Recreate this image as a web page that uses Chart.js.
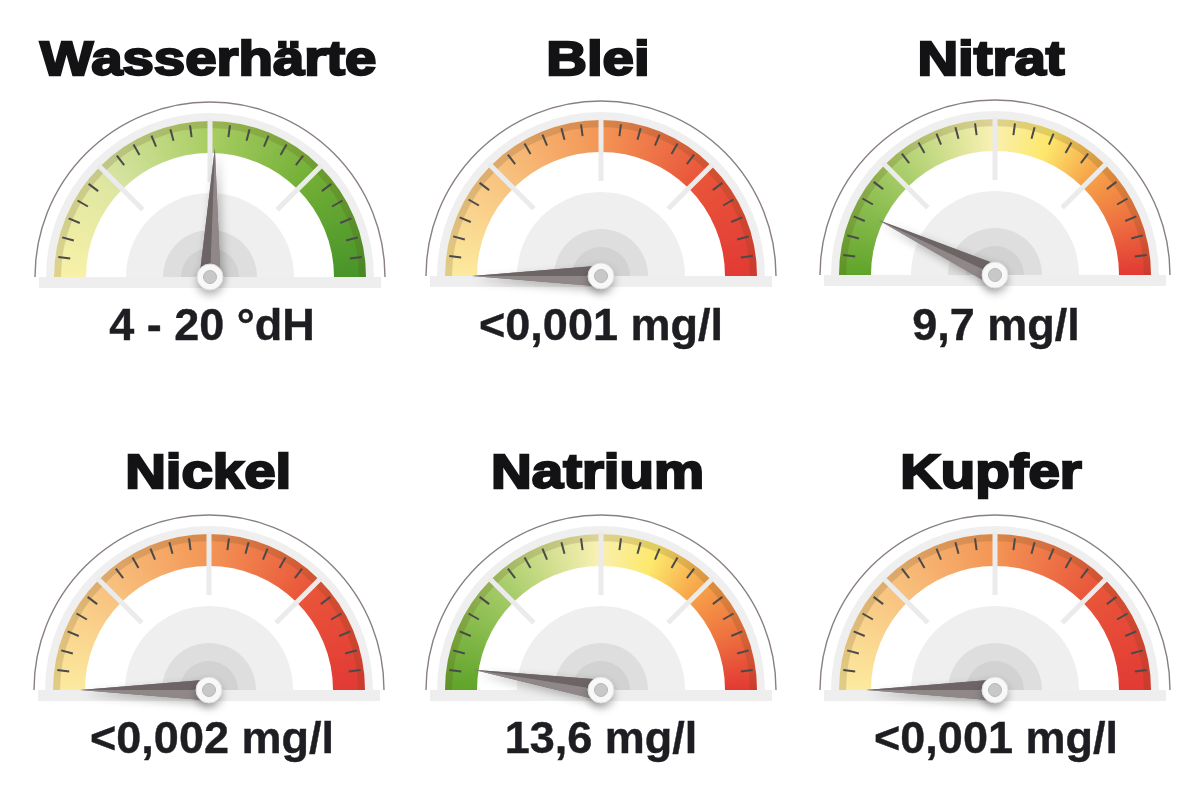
<!DOCTYPE html>
<html><head><meta charset="utf-8">
<script src="https://cdn.jsdelivr.net/npm/chart.js@4.4.1/dist/chart.umd.min.js"></script>
<style>
html,body{margin:0;padding:0;background:#fff;width:1200px;height:789px;overflow:hidden;position:relative;font-family:"Liberation Sans",Arial,sans-serif;}
canvas{position:absolute;}
.title{position:absolute;width:400px;text-align:center;font-weight:700;font-size:49px;line-height:49px;color:#131315;-webkit-text-stroke:2.3px #131315;white-space:nowrap;}
.title span{display:inline-block;transform:scaleX(1.15);}
.reading{position:absolute;width:400px;text-align:center;font-weight:700;font-size:45px;line-height:45px;color:#1e1e22;-webkit-text-stroke:0.4px #1e1e22;white-space:nowrap;}
</style></head><body>
<script>
// ---- data ----
const gaugeTitles = ['Wasserhärte', 'Blei', 'Nitrat', 'Nickel', 'Natrium', 'Kupfer'];
const readingLabels = ['4 - 20 °dH', '<0,001 mg/l', '9,7 mg/l', '<0,002 mg/l', '13,6 mg/l', '<0,001 mg/l'];
const needlePercent = [51.2, 0, 14, 0, 5, 0];          // needle position, % of scale
const zoneLabels = ['Zone 1', 'Zone 2', 'Zone 3', 'Zone 4'];
const zoneSizes = [25, 25, 25, 25];
const gaugeScheme = ['hardness', 'limit', 'nitrate', 'limit', 'nitrate', 'limit'];

// ---- styles / layout ----
const palettes = {
  hardness: [[0,'#f8f1a8'],[0.24,'#dde6a0'],[0.26,'#d6e3a0'],[0.5,'#a8cd62'],[0.75,'#72af36'],[1,'#489429']],
  limit:    [[0,'#fcea9f'],[0.25,'#f8c27f'],[0.5,'#f39555'],[0.75,'#e9553a'],[1,'#e23a34']],
  nitrate:  [[0,'#5fa429'],[0.25,'#a4cb66'],[0.49,'#f8f0b2'],[0.62,'#fde86c'],[0.75,'#f6a048'],[0.87,'#ee7240'],[1,'#e23933']]
};
const centers = [[210,277],[601,276],[995,275],[209,690],[601,690],[995,690]];
const BAND_R = 156, BAND_IN = 124;
const CW = 390, CH = 250, CX = 195, CY = 190;

function makeGradient(chart, scheme){
  const a = chart.chartArea;
  const stops = palettes[scheme];
  if(!a) return stops[0][1];
  const cx = (a.left + a.right) / 2, cy = (a.top + a.bottom) / 2 + 0.5 * BAND_R;
  const g = chart.ctx.createConicGradient(Math.PI, cx, cy);
  stops.forEach(([t,c]) => g.addColorStop(t/2, c));
  g.addColorStop(1, stops[stops.length-1][1]);
  return g;
}

function semi(ctx, cx, cy, r, fill){
  ctx.beginPath(); ctx.arc(cx, cy, r, Math.PI, 2*Math.PI); ctx.closePath();
  ctx.fillStyle = fill; ctx.fill();
}

const gaugePlugin = {
  id: 'gaugeDeco',
  beforeDatasetsDraw(chart){
    const arc = chart.getDatasetMeta(0).data[0];
    const cx = arc.x, cy = arc.y, R = arc.outerRadius;
    const ctx = chart.ctx;
    ctx.save();
    ctx.fillStyle = '#eeeeee';
    ctx.fillRect(cx - 171, cy, 342, 11);
    semi(ctx, cx, cy, R + 8, '#efefef');
    ctx.beginPath(); ctx.arc(cx, cy, 175, Math.PI, 2*Math.PI);
    ctx.strokeStyle = '#8a8080'; ctx.lineWidth = 1.4; ctx.stroke();
    semi(ctx, cx, cy, R, '#ffffff');
    ctx.restore();
  },
  afterDatasetsDraw(chart){
    const arc = chart.getDatasetMeta(0).data[0];
    const cx = arc.x, cy = arc.y, R = arc.outerRadius;
    const ctx = chart.ctx;
    const value = chart.options.plugins.gaugeDeco.value;
    ctx.save();
    // dark outer strip of band
    ctx.beginPath();
    ctx.arc(cx, cy, R, Math.PI, 2*Math.PI);
    ctx.arc(cx, cy, R - 7, 2*Math.PI, Math.PI, true);
    ctx.closePath();
    ctx.fillStyle = 'rgba(90,65,20,0.17)'; ctx.fill();
    // minor ticks
    ctx.strokeStyle = '#4a4a4a'; ctx.lineWidth = 2; ctx.lineCap = 'butt';
    for(let k = 1; k < 24; k++){
      if(k % 6 === 0) continue;
      const t = Math.PI + k * Math.PI / 24;
      ctx.beginPath();
      ctx.moveTo(cx + Math.cos(t)*(R-15), cy + Math.sin(t)*(R-15));
      ctx.lineTo(cx + Math.cos(t)*(R-3), cy + Math.sin(t)*(R-3));
      ctx.stroke();
    }
    // zone separators
    ctx.strokeStyle = '#ebebeb'; ctx.lineWidth = 5;
    for(let k = 1; k < 4; k++){
      const t = Math.PI + k * Math.PI / 4;
      ctx.beginPath();
      ctx.moveTo(cx + Math.cos(t)*95, cy + Math.sin(t)*95);
      ctx.lineTo(cx + Math.cos(t)*(R+2), cy + Math.sin(t)*(R+2));
      ctx.stroke();
    }
    // hub discs
    semi(ctx, cx, cy, 84, '#efefef');
    semi(ctx, cx, cy, 47, '#dedede');
    semi(ctx, cx, cy, 29, '#d2d2d2');
    // needle
    const th = Math.PI + (value/100) * Math.PI;
    const dx = Math.cos(th), dy = Math.sin(th);
    const nx = -dy, ny = dx;
    const L = 129, W = 10.5;
    const tip = [cx + dx*L, cy + dy*L];
    const pA = [cx + nx*W, cy + ny*W], pB = [cx - nx*W, cy - ny*W];
    ctx.save();
    ctx.shadowColor = 'rgba(0,0,0,0.28)'; ctx.shadowBlur = 10; ctx.shadowOffsetX = 3; ctx.shadowOffsetY = 4;
    ctx.beginPath(); ctx.moveTo(pA[0],pA[1]); ctx.lineTo(tip[0],tip[1]); ctx.lineTo(pB[0],pB[1]); ctx.closePath();
    ctx.fillStyle = '#7d7575'; ctx.fill();
    ctx.restore();
    const aDark = (nx + ny) < 0;
    ctx.beginPath(); ctx.moveTo(pA[0],pA[1]); ctx.lineTo(tip[0],tip[1]); ctx.lineTo(cx,cy); ctx.closePath();
    ctx.fillStyle = aDark ? '#6d6565' : '#908888'; ctx.fill();
    ctx.beginPath(); ctx.moveTo(pB[0],pB[1]); ctx.lineTo(tip[0],tip[1]); ctx.lineTo(cx,cy); ctx.closePath();
    ctx.fillStyle = aDark ? '#908888' : '#6d6565'; ctx.fill();
    // pivot
    ctx.save();
    ctx.shadowColor = 'rgba(0,0,0,0.3)'; ctx.shadowBlur = 8; ctx.shadowOffsetY = 5;
    ctx.beginPath(); ctx.arc(cx, cy, 13, 0, 2*Math.PI); ctx.fillStyle = '#f8f8f8'; ctx.fill();
    ctx.restore();
    ctx.beginPath(); ctx.arc(cx, cy, 13, 0, 2*Math.PI); ctx.strokeStyle = '#dddddd'; ctx.lineWidth = 1; ctx.stroke();
    ctx.beginPath(); ctx.arc(cx, cy, 6.5, 0, 2*Math.PI); ctx.fillStyle = '#c8c8c8'; ctx.fill();
    ctx.strokeStyle = '#b8b8b8'; ctx.stroke();
    ctx.restore();
  }
};

const titleBase = [75, 488], readBase = [340, 753];
const titleX = [208, 598, 991], readX = [212, 601, 996];

gaugeTitles.forEach((title, i) => {
  const [gx, gy] = centers[i];
  const cv = document.createElement('canvas');
  cv.width = CW; cv.height = CH;
  cv.style.left = (gx - CX) + 'px'; cv.style.top = (gy - CY) + 'px';
  document.body.appendChild(cv);
  const scheme = gaugeScheme[i];
  new Chart(cv, {
    type: 'doughnut',
    data: {
      labels: zoneLabels,
      datasets: [{
        data: zoneSizes,
        backgroundColor: (c) => makeGradient(c.chart, scheme),
        borderWidth: 0,
        hoverOffset: 0
      }]
    },
    options: {
      responsive: false,
      animation: false,
      events: [],
      rotation: -90,
      circumference: 180,
      radius: BAND_R,
      cutout: (BAND_IN / BAND_R * 100) + '%',
      layout: { padding: { bottom: CH - 2*(CY - 0.5*BAND_R) } },
      plugins: { legend: { display: false }, tooltip: { enabled: false }, gaugeDeco: { value: needlePercent[i] } }
    },
    plugins: [gaugePlugin]
  });
  const row = i < 3 ? 0 : 1, col = i % 3;
  const t = document.createElement('div');
  t.className = 'title';
  t.style.left = (titleX[col] - 200) + 'px';
  t.style.top = (titleBase[row] - 0.8465*49) + 'px';
  const sp = document.createElement('span'); sp.textContent = title; t.appendChild(sp);
  document.body.appendChild(t);
  const r = document.createElement('div');
  r.className = 'reading';
  r.style.left = (readX[col] - 200) + 'px';
  r.style.top = (readBase[row] - 0.8465*45) + 'px';
  r.textContent = readingLabels[i];
  document.body.appendChild(r);
});
</script>
</body></html>
